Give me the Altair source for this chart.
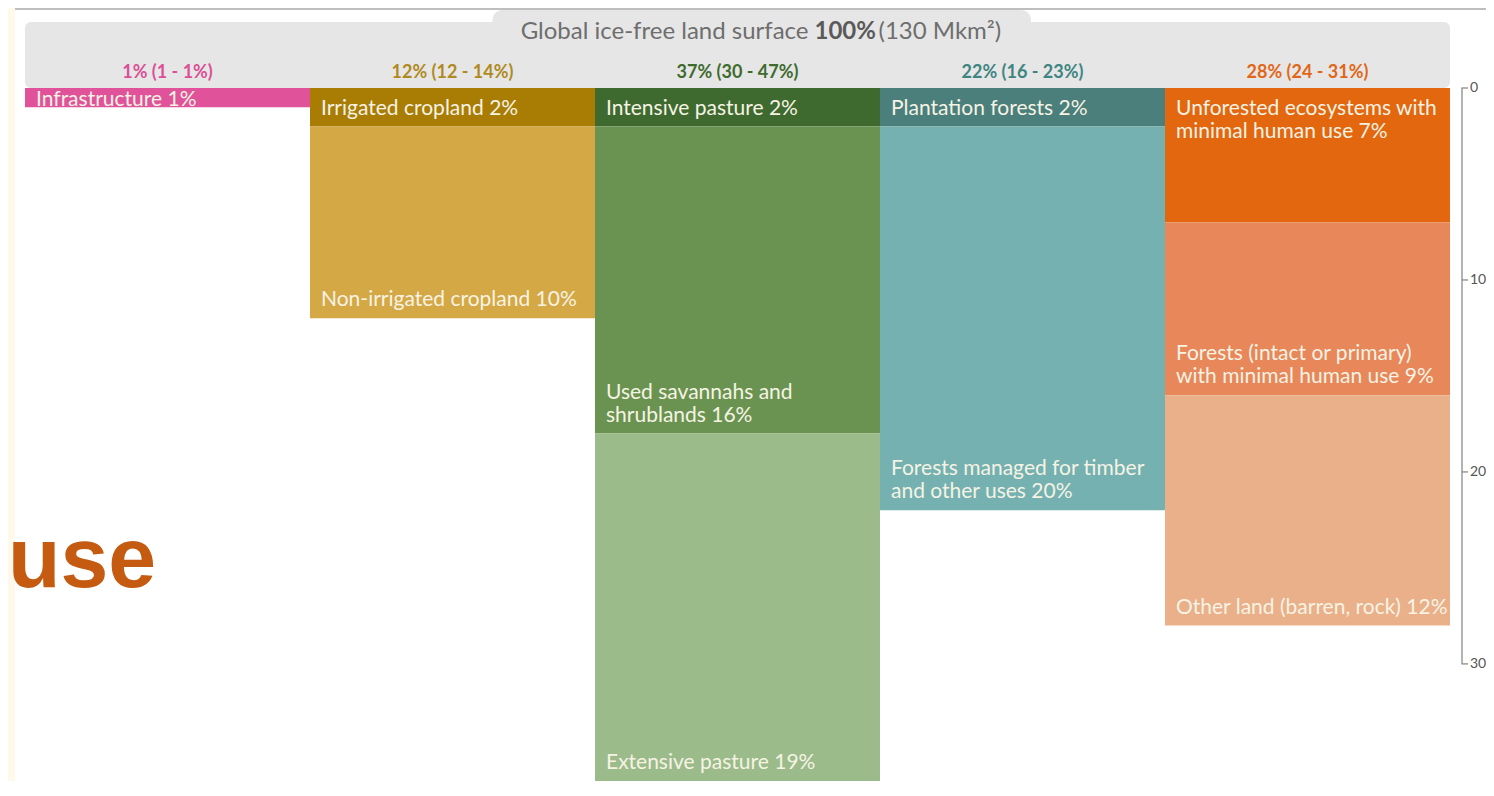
import altair as alt
import pandas as pd

# ---------------- data ----------------
column_headers = ["1% (1 - 1%)", "12% (12 - 14%)", "37% (30 - 47%)", "22% (16 - 23%)", "28% (24 - 31%)"]
column_colors = ["#DB4F97", "#B08A1E", "#3F6B2E", "#3E8582", "#E2661A"]

segment_labels = [
    "Infrastructure 1%",
    "Irrigated cropland 2%",
    "Non-irrigated cropland 10%",
    "Intensive pasture 2%",
    "Used savannahs and\nshrublands 16%",
    "Extensive pasture 19%",
    "Plantation forests 2%",
    "Forests managed for timber\nand other uses 20%",
    "Unforested ecosystems with\nminimal human use  7%",
    "Forests (intact or primary)\nwith minimal human use 9%",
    "Other land (barren, rock) 12%",
]
segment_values = [1, 2, 10, 2, 16, 19, 2, 20, 7, 9, 12]
segment_column = [0, 1, 1, 2, 2, 2, 3, 3, 4, 4, 4]
segment_colors = ["#E0529A", "#A97C04", "#D4A844", "#3E6A2F", "#6A9351",
                  "#9BBB8A", "#4A7F7C", "#74B1B0", "#E2670F", "#E8875A", "#EAB08A"]

axis_ticks = [0, 10, 20, 30]
title_parts = ["Global ice-free land surface", "100%", "(130 Mkm²)"]
side_text = "use"

Y_MAX = 36.1
PX_PER_UNIT = 693 / Y_MAX
LINE_H = 23

# ---------------- tables ----------------
rows = []
stack = [0] * len(column_headers)
for lab, val, col, colr in zip(segment_labels, segment_values, segment_column, segment_colors):
    start = stack[col]
    end = start + val
    stack[col] = end
    first = start == 0
    n_lines = lab.count("\n") + 1
    if first:
        anchor = start + min(val, 2) / 2
    else:
        anchor = min(end, Y_MAX) - (n_lines - 1) * LINE_H / PX_PER_UNIT
    rows.append(dict(label=lab, value=val, col=col, col_end=col + 1, start=start,
                     end=end, color=colr, pos="top" if first else "bottom", anchor=anchor))
seg = pd.DataFrame(rows)

cols = pd.DataFrame(dict(header=column_headers, color=column_colors,
                         mid=[i + 0.5 for i in range(len(column_headers))]))
axis_df = pd.DataFrame(dict(y0=[min(axis_ticks)], y1=[max(axis_ticks)]))
ticks_df = pd.DataFrame(dict(tick=axis_ticks, text=[str(t) for t in axis_ticks]))

xs = alt.Scale(domain=[0, 5], nice=False, zero=False)
ys = alt.Scale(domain=[0, Y_MAX], reverse=True, nice=False, zero=False)

FONT = "Lato"
LABEL_COLOR = "#F6F3E4"
AXIS_GRAY = "#9A9A9A"

base = alt.Chart(seg)

bars = base.mark_rect(clip=True).encode(
    x=alt.X("col:Q", scale=xs, axis=None),
    x2="col_end:Q",
    y=alt.Y("start:Q", scale=ys, axis=None),
    y2="end:Q",
    color=alt.Color("color:N", scale=None))

# decorations
cream = alt.Chart(axis_df).mark_rect(color="#FFF9EC").encode(
    x=alt.value(-17), x2=alt.value(-10), y=alt.value(-80), y2=alt.value(700))
topline = alt.Chart(axis_df).mark_rule(color="#A8A8A8", strokeWidth=1.5).encode(
    x=alt.value(-10), x2=alt.value(1461), y=alt.value(-79))

header_box = alt.Chart(axis_df).mark_rect(color="#E6E6E6", cornerRadius=6).encode(
    x=alt.datum(0, scale=xs, axis=None), x2=alt.datum(5),
    y=alt.datum(-3.44, scale=ys, axis=None), y2=alt.datum(0))
header_tab = alt.Chart(axis_df).mark_rect(color="#E6E6E6", cornerRadius=12).encode(
    x=alt.datum(1.64, scale=xs, axis=None), x2=alt.datum(3.53),
    y=alt.datum(-4.06, scale=ys, axis=None), y2=alt.datum(-3.0))

t1 = alt.Chart(axis_df).mark_text(text=title_parts[0], align="right", baseline="middle",
                                  font=FONT, fontSize=24, color="#6E6E6E", dx=71).encode(
    x=alt.datum(2.5, scale=xs, axis=None), y=alt.datum(-2.92, scale=ys, axis=None))
t2 = alt.Chart(axis_df).mark_text(text=title_parts[1], align="left", baseline="middle",
                                  font=FONT, fontSize=24, fontWeight="bold", color="#5A5A5A", dx=77).encode(
    x=alt.datum(2.5, scale=xs, axis=None), y=alt.datum(-2.92, scale=ys, axis=None))
t3 = alt.Chart(axis_df).mark_text(text=title_parts[2], align="left", baseline="middle",
                                  font=FONT, fontSize=24, color="#6E6E6E", dx=141).encode(
    x=alt.datum(2.5, scale=xs, axis=None), y=alt.datum(-2.92, scale=ys, axis=None))

col_heads = alt.Chart(cols).mark_text(align="center", baseline="middle", font=FONT,
                                      fontSize=18, fontWeight="bold").encode(
    x=alt.X("mid:Q", scale=xs, axis=None),
    y=alt.datum(-0.78, scale=ys, axis=None),
    text="header:N",
    color=alt.Color("color:N", scale=None))

lab_top = base.transform_filter(alt.datum.pos == "top").mark_text(
    align="left", baseline="middle", font=FONT, fontSize=21, color=LABEL_COLOR,
    dx=11, dy=2, lineBreak="\n", lineHeight=LINE_H).encode(
    x=alt.X("col:Q", scale=xs, axis=None),
    y=alt.Y("anchor:Q", scale=ys, axis=None),
    text="label:N")
lab_bot = base.transform_filter(alt.datum.pos == "bottom").mark_text(
    align="left", baseline="bottom", font=FONT, fontSize=21, color=LABEL_COLOR,
    dx=11, dy=-8, lineBreak="\n", lineHeight=LINE_H).encode(
    x=alt.X("col:Q", scale=xs, axis=None),
    y=alt.Y("anchor:Q", scale=ys, axis=None),
    text="label:N")

# right-hand scale: line, ticks and labels from the tick list through the y scale
axis_line = alt.Chart(axis_df).mark_rule(color=AXIS_GRAY, strokeWidth=1.5).encode(
    x=alt.value(1437),
    y=alt.Y("y0:Q", scale=ys, axis=None),
    y2="y1:Q")
axis_tick_marks = alt.Chart(ticks_df).mark_rule(color=AXIS_GRAY, strokeWidth=1.5).encode(
    x=alt.value(1436.5), x2=alt.value(1443),
    y=alt.Y("tick:Q", scale=ys, axis=None))
axis_labels = alt.Chart(ticks_df).mark_text(align="left", baseline="middle", font=FONT,
                                            fontSize=14, color="#555555").encode(
    x=alt.value(1445),
    y=alt.Y("tick:Q", scale=ys, axis=None),
    text="text:N")

use_txt = alt.Chart(axis_df).mark_text(text=side_text, align="left", baseline="alphabetic",
                                       font="Liberation Sans", fontWeight="bold",
                                       fontSize=86, color="#C55A11").encode(
    x=alt.value(-17), y=alt.value(499))

chart = alt.layer(
    bars, cream, topline, header_tab, header_box, t1, t2, t3, col_heads,
    lab_top, lab_bot, axis_line, axis_tick_marks, axis_labels, use_txt
).properties(
    width=1425, height=693,
    autosize=alt.AutoSizeParams(type="none"),
    padding={"left": 17, "top": 80, "right": 36, "bottom": 0},
    background="white",
).configure_view(stroke=None)

chart.save("out.html", embed_options={"renderer": "svg", "actions": False})
